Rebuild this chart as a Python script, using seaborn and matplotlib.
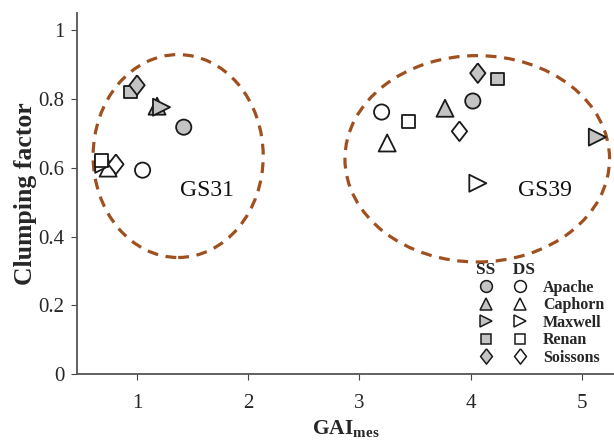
import matplotlib
matplotlib.use("Agg")
import matplotlib.pyplot as plt
import seaborn as sns
import pandas as pd
from matplotlib.patches import Ellipse
from matplotlib.legend_handler import HandlerTuple
from matplotlib.lines import Line2D

# ---------------- data ----------------
varieties = ["Apache", "Caphorn", "Maxwell", "Renan", "Soissons"]

gs31_ss_gai = [1.42, 1.18, 1.22, 0.94, 1.00]
gs31_ss_cf = [0.718, 0.779, 0.776, 0.820, 0.840]
gs31_ds_gai = [1.05, 0.74, 0.70, 0.68, 0.81]
gs31_ds_cf = [0.593, 0.599, 0.610, 0.622, 0.610]

gs39_ss_gai = [4.02, 3.77, 5.14, 4.24, 4.065]
gs39_ss_cf = [0.794, 0.773, 0.689, 0.858, 0.875]
gs39_ds_gai = [3.20, 3.25, 4.065, 3.44, 3.90]
gs39_ds_cf = [0.762, 0.672, 0.555, 0.735, 0.706]

stage_names = ["GS31", "GS39"]
ellipse_center_x = [1.37, 4.06]
ellipse_center_y = [0.634, 0.626]
ellipse_width = [1.53, 2.38]
ellipse_height = [0.59, 0.60]
stage_label_x = [1.63, 4.67]
stage_label_y = [0.535, 0.535]

x_ticks = [1, 2, 3, 4, 5]
y_ticks = [0, 0.2, 0.4, 0.6, 0.8, 1]
y_tick_labels = ["0", "0.2", "0.4", "0.6", "0.8", "1"]

# ---------------- style ----------------
sns.set_style("ticks")
plt.rcParams["font.family"] = ["Liberation Serif", "DejaVu Serif"]
plt.rcParams["mathtext.fontset"] = "custom"
plt.rcParams["mathtext.rm"] = "Liberation Serif"
plt.rcParams["mathtext.bf"] = "Liberation Serif:bold"

SS_FILL = "#c4c4c4"
EDGE = "#1a1a1a"
BROWN = "#a04f1e"

DIAMOND = [(0, 1), (0.78, 0), (0, -1), (-0.78, 0), (0, 1)]
marker_map = {"Apache": "o", "Caphorn": "^", "Maxwell": ">", "Renan": "s",
              "Soissons": DIAMOND}
size_map = {"Apache": 120, "Caphorn": 150, "Maxwell": 150, "Renan": 85, "Soissons": 200}
legend_msize = {"Apache": 8.5, "Caphorn": 8.5, "Maxwell": 8.5, "Renan": 7.5, "Soissons": 11}

rows = []
for gai, cf in ((gs31_ss_gai, gs31_ss_cf), (gs39_ss_gai, gs39_ss_cf)):
    for v, g, c in zip(varieties, gai, cf):
        rows.append({"GAI": g, "CF": c, "variety": v, "trt": "SS"})
for gai, cf in ((gs31_ds_gai, gs31_ds_cf), (gs39_ds_gai, gs39_ds_cf)):
    for v, g, c in zip(varieties, gai, cf):
        rows.append({"GAI": g, "CF": c, "variety": v, "trt": "DS"})
df = pd.DataFrame(rows)

fig = plt.figure(figsize=(6.14, 4.48), dpi=100)
ax = fig.add_axes([0.1254, 0.165, 0.8746, 0.806])

# ellipses
for cx, cy, w, h in zip(ellipse_center_x, ellipse_center_y, ellipse_width, ellipse_height):
    e = Ellipse((cx, cy), w, h, fill=False, edgecolor=BROWN, linewidth=2.3,
                linestyle=(0, (3.4, 2.4)), zorder=1, clip_on=False)
    ax.add_patch(e)

for trt, fc in (("DS", "white"), ("SS", SS_FILL)):
    sub = df[df["trt"] == trt]
    sns.scatterplot(data=sub, x="GAI", y="CF", style="variety", size="variety",
                    markers=marker_map, sizes=size_map, color=fc,
                    edgecolor=EDGE, linewidth=1.3, legend=False, ax=ax, zorder=3)

for name, x, y in zip(stage_names, stage_label_x, stage_label_y):
    ax.text(x, y, name, fontsize=17, ha="center", va="center", color="#111")

ax.set_xlim(0.46, 5.29)
ax.set_ylim(0, 1.05)
ax.set_xticks(x_ticks)
ax.set_xticklabels([str(t) for t in x_ticks])
ax.set_yticks(y_ticks)
ax.set_yticklabels(y_tick_labels)
ax.tick_params(axis="x", direction="out", length=4, pad=10, labelsize=15, color="#444")
ax.tick_params(axis="y", direction="out", length=4, pad=5, labelsize=15, color="#444")
for s in ("top", "right"):
    ax.spines[s].set_visible(False)
for s in ("left", "bottom"):
    ax.spines[s].set_color("#555")
    ax.spines[s].set_linewidth(1.3)

ax.set_xlabel(r"$\mathbf{GAI}_{\mathbf{mes}}$", fontsize=15.5, labelpad=4)
ax.set_ylabel("Clumping factor", fontsize=18.5, fontweight="bold", labelpad=1)

# legend
handles = []
for v in varieties:
    m = marker_map[v]
    ss = Line2D([], [], linestyle="none", marker=m, markersize=legend_msize[v],
                markerfacecolor=SS_FILL, markeredgecolor=EDGE, markeredgewidth=1.1)
    ds = Line2D([], [], linestyle="none", marker=m, markersize=legend_msize[v],
                markerfacecolor="white", markeredgecolor=EDGE, markeredgewidth=1.1)
    handles.append((ss, ds))
leg = ax.legend(handles, varieties, handler_map={tuple: HandlerTuple(ndivide=None, pad=0.87)},
                title="SS    DS", alignment="left", frameon=False,
                loc="upper left", bbox_to_anchor=(468 / 614, 1 - 254 / 448),
                bbox_transform=fig.transFigure, borderpad=0, handlelength=3.38,
                handletextpad=0.8, labelspacing=0.1,
                prop={"family": "Liberation Serif", "weight": "bold", "size": 11.5})
leg.get_title().set_fontweight("bold")
leg.get_title().set_fontsize(12.5)

fig.savefig("out.png", dpi=100)
